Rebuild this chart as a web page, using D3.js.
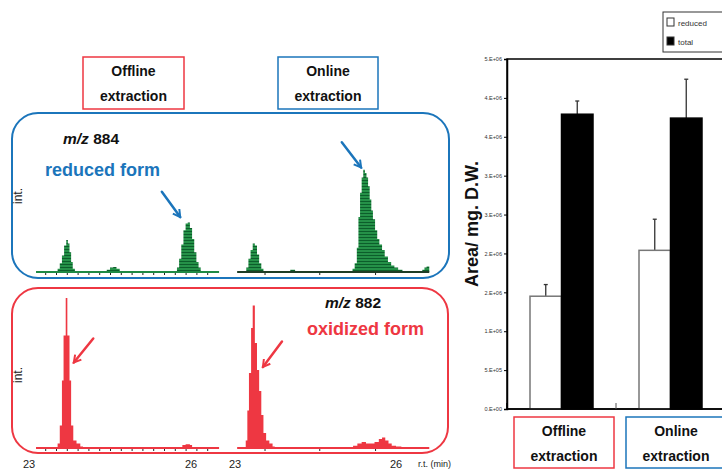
<!DOCTYPE html>
<html>
<head>
<meta charset="utf-8">
<script src="https://cdn.jsdelivr.net/npm/d3@7"></script>
<style>
  body { margin: 0; background: #fff; }
  svg { display: block; font-family: "Liberation Sans", Arial, sans-serif; }
</style>
</head>
<body>
<div id="chart"></div>
<script>
// ---- chromatogram traces (retention time in min, intensity in arbitrary units) ----
const rtOffRed  = [23.13, 23.50, 23.53, 23.57, 23.61, 23.65, 23.69, 23.72, 23.75, 23.78, 23.81, 23.85,
                   24.40, 24.44, 24.50, 24.56, 24.62, 24.68, 24.74,
                   25.70, 25.74, 25.78, 25.82, 25.86, 25.90, 25.94, 25.98, 26.02, 26.06, 26.10, 26.14, 26.18, 26.22, 26.52];
const intOffRed = [0, 0, 3, 8, 15, 24, 29, 26, 18, 9, 3, 0,
                   0, 2, 4, 4.5, 3, 1, 0,
                   0, 4, 12, 25, 38, 44, 45, 40, 30, 18, 9, 4, 1, 0, 0];

const rtOnRed   = [23.04, 23.18, 23.21, 23.25, 23.29, 23.33, 23.37, 23.41, 23.45, 23.49, 23.53, 23.57,
                   24.00, 24.03, 24.09, 24.12,
                   25.15, 25.19, 25.23, 25.27, 25.30, 25.33, 25.36, 25.39, 25.42, 25.45, 25.48, 25.51, 25.54, 25.57,
                   25.61, 25.65, 25.69, 25.74, 25.79, 25.85, 25.91, 25.97, 26.04, 26.12, 26.20,
                   26.45, 26.49, 26.53, 26.57, 26.62];
const intOnRed  = [0, 0, 4, 12, 20, 26, 24, 16, 8, 3, 1, 0,
                   0, 2, 2, 0,
                   0, 3, 8, 22, 50, 72, 86, 93, 90, 86, 78, 66, 56, 48,
                   38, 30, 25, 20, 14, 9, 6, 4, 2, 1, 0,
                   0, 2, 4, 5, 3];

const rtOffOx   = [23.13, 23.50, 23.53, 23.57, 23.61, 23.64, 23.68, 23.71, 23.75, 23.78, 23.82, 23.88, 23.95, 24.00,
                   25.80, 25.84, 25.90, 25.98, 26.02, 26.52];
const intOffOx  = [0, 0, 3, 15, 45, 75, 100, 75, 45, 15, 5, 3, 1, 0,
                   0, 2, 2.5, 2, 0, 0];

const rtOnOx    = [23.04, 23.17, 23.20, 23.23, 23.26, 23.30, 23.33, 23.37, 23.41, 23.45, 23.49, 23.53, 23.58, 23.64, 23.70, 23.74,
                   25.15, 25.20, 25.28, 25.36, 25.44, 25.52, 25.60, 25.68, 25.74, 25.80, 25.86, 25.92, 26.00, 26.10, 26.62];
const intOnOx   = [0, 0, 5, 25, 50, 80, 95, 70, 52, 38, 22, 10, 5, 3, 1, 0,
                   0, 1.5, 3, 4, 3, 3, 4, 6, 7, 5, 3, 1.5, 1, 0, 0];

const ticksLeft  = [23.3, 23.5, 23.7, 23.9, 24.1, 24.3, 24.5, 24.7, 24.9, 25.1, 25.3, 25.5, 25.7, 25.9, 26.1, 26.3];
const ticksRight = [23.55, 24.57, 25.61];
const rtLabels = [23, 26];

// ---- bar chart ----
const categories = ["Offline extraction", "Online extraction"];
const seriesKeys = ["reduced", "total"];
const seriesLabels = ["reduced", "total"];
const reducedVals = [1.45e6, 2.04e6];
const reducedErr  = [0.15e6, 0.40e6];
const totalVals   = [3.79e6, 3.74e6];
const totalErr    = [0.17e6, 0.50e6];
const yTickVals   = [0, 5e5, 1e6, 1.5e6, 2e6, 2.5e6, 3e6, 3.5e6, 4e6, 4.5e6];
const yTickLabels = ["0.E+00", "5.E+05", "1.E+06", "2.E+06", "2.E+06", "3.E+06", "3.E+06", "4.E+06", "4.E+06", "5.E+06"];

const BLUE = "#1b75bb", RED = "#ee3742", GREEN = "#1f8a44";

const svg = d3.select("#chart").append("svg")
    .attr("width", 722).attr("height", 470);

const defs = svg.append("defs");
const pat = defs.append("pattern").attr("id", "greenHatch")
    .attr("patternUnits", "userSpaceOnUse").attr("width", 4).attr("height", 3);
pat.append("rect").attr("width", 4).attr("height", 3).attr("fill", "#259148");
pat.append("rect").attr("width", 4).attr("height", 1).attr("fill", "#0c5e2b");

[["arrowBlue", BLUE], ["arrowRed", RED]].forEach(([id, c]) => {
    defs.append("marker").attr("id", id)
        .attr("viewBox", "0 0 10 10").attr("refX", 8).attr("refY", 5)
        .attr("markerWidth", 4).attr("markerHeight", 4).attr("orient", "auto")
        .append("path").attr("d", "M1,1 L8,5 L1,9")
        .attr("fill", "none").attr("stroke", c).attr("stroke-width", 2);
});

// ---------- left: chromatograms ----------
svg.append("rect").attr("x", 12).attr("y", 113).attr("width", 437).attr("height", 165)
    .attr("rx", 26).attr("fill", "none").attr("stroke", BLUE).attr("stroke-width", 2);
svg.append("rect").attr("x", 12).attr("y", 288).attr("width", 436).attr("height", 165)
    .attr("rx", 26).attr("fill", "none").attr("stroke", RED).attr("stroke-width", 2);

// header boxes
function labelBox(g, x, y, w, h, color, lines, y1, y2) {
    g.append("rect").attr("x", x).attr("y", y).attr("width", w).attr("height", h)
        .attr("fill", "none").attr("stroke", color).attr("stroke-width", 1.5);
    g.append("text").attr("x", x + w / 2).attr("y", y1).attr("text-anchor", "middle")
        .attr("font-size", 14).attr("font-weight", "bold").attr("fill", "#111").text(lines[0]);
    g.append("text").attr("x", x + w / 2).attr("y", y2).attr("text-anchor", "middle")
        .attr("font-size", 14).attr("font-weight", "bold").attr("fill", "#111").text(lines[1]);
}
labelBox(svg, 83, 57, 101, 52, RED, ["Offline", "extraction"], 76, 101);
labelBox(svg, 278, 57, 100, 52, BLUE, ["Online", "extraction"], 76, 101);

const xL = d3.scaleLinear([23, 26], [29, 191]);
const xR = d3.scaleLinear([23, 26], [235, 396]);
const yTop = d3.scaleLinear([0, 100], [272, 162]);
const yBot = d3.scaleLinear([0, 100], [448, 298]);

const panels = [
    {rt: rtOffRed, v: intOffRed, x: xL, y: yTop, fill: "url(#greenHatch)", base: GREEN, ticks: ticksLeft},
    {rt: rtOnRed,  v: intOnRed,  x: xR, y: yTop, fill: "url(#greenHatch)", base: "#1e3d26", ticks: ticksRight},
    {rt: rtOffOx,  v: intOffOx,  x: xL, y: yBot, fill: RED, base: RED, ticks: ticksLeft},
    {rt: rtOnOx,   v: intOnOx,   x: xR, y: yBot, fill: RED, base: RED, ticks: ticksRight}
];

panels.forEach(p => {
    const pts = p.rt.map((t, i) => [t, p.v[i]]);
    const g = svg.append("g");
    g.append("path").datum(pts)
        .attr("d", d3.area().x(d => p.x(d[0])).y0(p.y(0)).y1(d => p.y(d[1])).curve(d3.curveStepAfter))
        .attr("fill", p.fill);
    g.append("line")
        .attr("x1", p.x(d3.min(p.rt))).attr("x2", p.x(d3.max(p.rt)))
        .attr("y1", p.y(0)).attr("y2", p.y(0))
        .attr("stroke", p.base).attr("stroke-width", 2);
    g.append("g").attr("transform", `translate(0,${p.y(0) + 1})`)
        .call(d3.axisBottom(p.x).tickValues(p.ticks).tickSize(2).tickFormat(""))
        .call(a => a.select(".domain").remove())
        .call(a => a.selectAll("line").attr("stroke", "#222"));
});

// rt labels
[xL, xR].forEach(x => {
    svg.append("g").selectAll("text").data(rtLabels).join("text")
        .attr("x", d => x(d)).attr("y", 468).attr("text-anchor", "middle")
        .attr("font-size", 11).attr("fill", "#222").text(d => d);
});
svg.append("text").attr("x", 418).attr("y", 467).attr("font-size", 9).attr("fill", "#222").text("r.t. (min)");

// int. labels
[196, 375].forEach(cy => {
    svg.append("text").attr("transform", `translate(22,${cy}) rotate(-90)`)
        .attr("text-anchor", "middle").attr("font-size", 12).attr("fill", "#222").text("int.");
});

// annotations
function mz(x, y, num) {
    const t = svg.append("text").attr("x", x).attr("y", y).attr("font-size", 15.5)
        .attr("font-weight", "bold").attr("fill", "#111");
    t.append("tspan").attr("font-style", "italic").text("m/z");
    t.append("tspan").text(" " + num);
}
mz(63, 144, "884");
svg.append("text").attr("x", 45).attr("y", 176).attr("font-size", 18).attr("font-weight", "bold")
    .attr("fill", BLUE).text("reduced form");
mz(325, 308, "882");
svg.append("text").attr("x", 307).attr("y", 335).attr("font-size", 18).attr("font-weight", "bold")
    .attr("fill", RED).text("oxidized form");

const arrows = [
    {x: xL, y: yTop, from: [25.46, 73], to: [25.80, 50], c: BLUE, m: "arrowBlue"},
    {x: xR, y: yTop, from: [24.99, 118], to: [25.35, 95], c: BLUE, m: "arrowBlue"},
    {x: xL, y: yBot, from: [24.19, 73], to: [23.83, 57], c: RED, m: "arrowRed"},
    {x: xR, y: yBot, from: [23.875, 71], to: [23.52, 54], c: RED, m: "arrowRed"}
];
arrows.forEach(a => {
    svg.append("line")
        .attr("x1", a.x(a.from[0])).attr("y1", a.y(a.from[1]))
        .attr("x2", a.x(a.to[0])).attr("y2", a.y(a.to[1]))
        .attr("stroke", a.c).attr("stroke-width", 2.5).attr("stroke-linecap", "round")
        .attr("marker-end", `url(#${a.m})`);
});

// ---------- right: bar chart ----------
const y = d3.scaleLinear([0, 4.5e6], [409, 59]);
const x0 = d3.scaleBand(categories, [507, 725]);
const x1 = d3.scaleBand(seriesKeys, [23, 86]);

const barData = categories.map((c, i) => ({
    cat: c,
    bars: [
        {key: "reduced", v: reducedVals[i], e: reducedErr[i]},
        {key: "total", v: totalVals[i], e: totalErr[i]}
    ]
}));

const bg = svg.append("g");
// plot frame
bg.append("rect").attr("x", 507).attr("y", y(4.5e6)).attr("width", 240).attr("height", y(0) - y(4.5e6))
    .attr("fill", "none").attr("stroke", "#000").attr("stroke-width", 1.5);

const grp = bg.selectAll(".grp").data(barData).join("g")
    .attr("class", "grp").attr("transform", d => `translate(${x0(d.cat)},0)`);

// error bars (behind bars)
grp.selectAll(".err").data(d => d.bars).join("g").attr("class", "err")
    .each(function(d) {
        const g = d3.select(this);
        const cx = x1(d.key) + x1.bandwidth() / 2;
        g.append("line").attr("x1", cx).attr("x2", cx).attr("y1", y(d.v)).attr("y2", y(d.v + d.e))
            .attr("stroke", "#333").attr("stroke-width", 1.3);
        g.append("line").attr("x1", cx - 2).attr("x2", cx + 2).attr("y1", y(d.v + d.e)).attr("y2", y(d.v + d.e))
            .attr("stroke", "#333").attr("stroke-width", 1.3);
    });

grp.selectAll(".bar").data(d => d.bars).join("rect").attr("class", "bar")
    .attr("x", d => x1(d.key)).attr("width", x1.bandwidth())
    .attr("y", d => y(d.v)).attr("height", d => y(0) - y(d.v))
    .attr("fill", d => d.key === "total" ? "#000" : "#fff")
    .attr("stroke", d => d.key === "total" ? "#000" : "#777")
    .attr("stroke-width", 1.5);

// y axis
bg.append("g").attr("transform", "translate(507,0)")
    .call(d3.axisLeft(y).tickValues(yTickVals).tickFormat((d, i) => yTickLabels[i]).tickSize(3).tickPadding(2))
    .call(a => a.select(".domain").attr("stroke-width", 1.5))
    .call(a => a.selectAll("text").attr("font-size", 5.5).attr("fill", "#333"));

// x axis middle tick (inward)
bg.append("g").attr("transform", `translate(0,${y(0)})`)
    .call(d3.axisBottom(x0).tickValues([categories[1]]).tickSize(-6).tickFormat("")
        .offset(0))
    .call(a => a.select(".domain").attr("stroke-width", 1.5))
    .call(a => a.selectAll(".tick").attr("transform", `translate(${x0(categories[1])},0)`))
    .call(a => a.selectAll(".tick line").attr("stroke", "#555"));

bg.append("text").attr("transform", "translate(478,224) rotate(-90)")
    .attr("text-anchor", "middle").attr("font-size", 18).attr("font-weight", "bold")
    .attr("fill", "#111").text("Area/ mg. D.W.");

// legend
const lg = svg.append("g").attr("transform", "translate(663,12)");
lg.append("rect").attr("width", 80).attr("height", 40).attr("fill", "#fff").attr("stroke", "#333");
seriesKeys.forEach((k, i) => {
    lg.append("rect").attr("x", 4).attr("y", 6 + i * 19).attr("width", 7).attr("height", 8)
        .attr("fill", k === "total" ? "#000" : "#fff").attr("stroke", "#333");
    lg.append("text").attr("x", 15).attr("y", 14 + i * 19).attr("font-size", 8).attr("fill", "#333")
        .text(seriesLabels[i]);
});

// bottom category boxes
labelBox(svg, 514, 417, 100, 51, RED, ["Offline", "extraction"], 436, 461);
labelBox(svg, 626, 417, 100, 51, BLUE, ["Online", "extraction"], 436, 461);
</script>
</body>
</html>
